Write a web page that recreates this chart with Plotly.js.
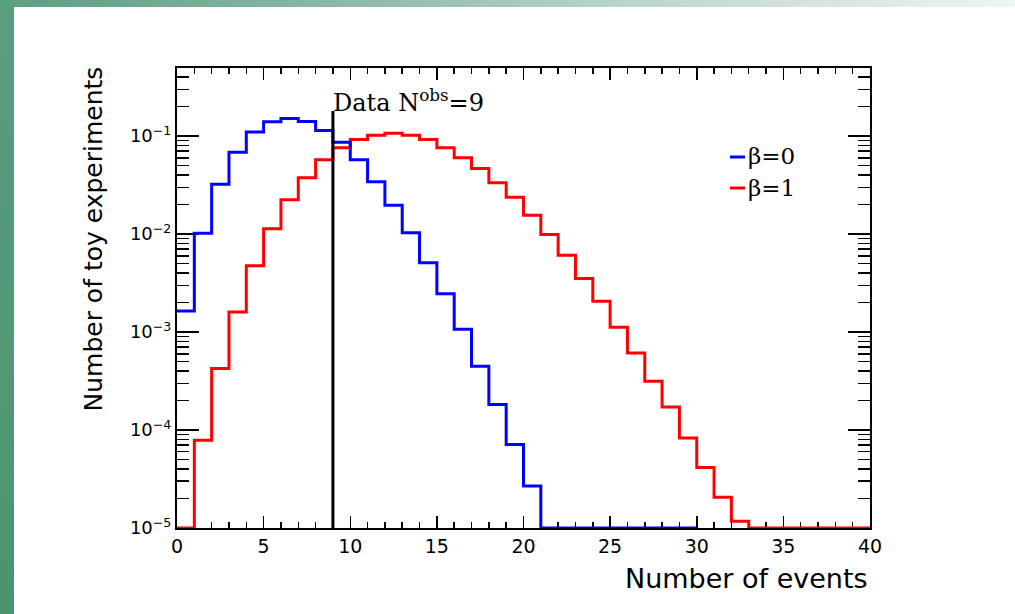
<!DOCTYPE html>
<html>
<head>
<meta charset="utf-8">
<script src="https://cdn.plot.ly/plotly-3.0.1.min.js"></script>
<style>
  html, body { margin:0; padding:0; background:#ffffff; }
  #wrap { position:relative; width:1015px; height:614px; overflow:hidden; background:#ffffff; }
  #plot { position:absolute; left:0; top:0; width:1015px; height:614px; }
  #barLeft { position:absolute; left:0; top:0; width:14px; height:614px;
             background:linear-gradient(to bottom, #5a9e80, #4a9470); z-index:5; }
  #barTop { position:absolute; left:0; top:0; width:1015px; height:7px;
            background:linear-gradient(to right, #5a9e80 0%, #8dbba5 35%, #c6ddd1 70%, #eef5f1 100%); z-index:6; }
</style>
</head>
<body>
<div id="wrap">
  <div id="plot"></div>
  <div id="barLeft"></div>
  <div id="barTop"></div>
</div>
<script>
// ---- data ----
// beta = 0 hypothesis: fraction of toy experiments per unit bin (bins start at 0, width 1)
var beta0Values = [1.64e-3, 0.0102, 0.0321, 0.0682, 0.110, 0.140, 0.151, 0.141, 0.114, 0.0862,
                   0.0574, 0.0342, 0.0196, 0.0103, 0.0051, 2.45e-3, 1.07e-3, 4.47e-4, 1.82e-4, 7.1e-5,
                   2.69e-5, 0, 0, 0, 0, 0, 0, 0, 0, 0];
// beta = 1 hypothesis
var beta1Values = [0, 7.85e-5, 4.23e-4, 1.60e-3, 4.75e-3, 0.0113, 0.0223, 0.0376, 0.0574, 0.076,
                   0.0919, 0.102, 0.1066, 0.1017, 0.092, 0.076, 0.060, 0.0465, 0.0334, 0.0237,
                   0.0155, 9.86e-3, 6.07e-3, 3.51e-3, 2.06e-3, 1.12e-3, 6.1e-4, 3.14e-4, 1.72e-4, 8.3e-5,
                   4.14e-5, 2.06e-5, 1.17e-5, 0, 0, 0, 0, 0, 0, 0];
var binStart = 0;
var binWidth = 1;
var dataNobs = 9;
var dataLineTop = 0.18;
var seriesNames = ["β=0", "β=1"];
var xTickVals = [0, 5, 10, 15, 20, 25, 30, 35, 40];
var yTickVals = [1e-5, 1e-4, 1e-3, 1e-2, 1e-1];
var yTickText = ["10<sup>−5</sup>", "10<sup>−4</sup>", "10<sup>−3</sup>", "10<sup>−2</sup>", "10<sup>−1</sup>"];
var xTitle = "Number of events";
var yTitle = "Number of toy experiments";
var dataLabel = "Data N<sup>obs</sup>=" + dataNobs;

// ---- build step outlines ----
var yLogRange = [-5, -0.306];
var yFloor = Math.pow(10, yLogRange[0]);
function stepTrace(vals, color, name) {
  var xs = [], ys = [];
  for (var i = 0; i < vals.length; i++) {
    xs.push(binStart + i * binWidth);
    ys.push(vals[i] > 0 ? vals[i] : yFloor);
  }
  xs.push(binStart + vals.length * binWidth);
  ys.push(ys[ys.length - 1]);
  return { x: xs, y: ys, type: 'scatter', mode: 'lines', name: name,
           line: { shape: 'hv', color: color, width: 3 }, showlegend: false, hoverinfo: 'skip' };
}
var traces = [
  stepTrace(beta1Values, '#ff0000', seriesNames[1]),
  stepTrace(beta0Values, '#0000ff', seriesNames[0]),
  { x: [dataNobs, dataNobs], y: [yFloor, dataLineTop], type: 'scatter', mode: 'lines',
    line: { color: '#000000', width: 3 }, showlegend: false, hoverinfo: 'skip' }
];

// minor ticks positions on log axis
var yMinor = [];
for (var d = -5; d <= -1; d++) {
  for (var k = 2; k <= 9; k++) yMinor.push(k * Math.pow(10, d));
}

var L = 177, R = 870, T = 68, B = 528, W = 1015, H = 614;
function px(xp) { return (xp - L) / (R - L); }
function py(yp) { return (B - yp) / (B - T); }

var layout = {
  width: W, height: H,
  margin: { l: L, r: W - R, t: T, b: H - B, pad: 0 },
  paper_bgcolor: '#ffffff', plot_bgcolor: '#ffffff',
  showlegend: false,
  xaxis: {
    range: [0, 40], tickmode: 'array', tickvals: xTickVals,
    ticks: 'inside', ticklen: 12, tickwidth: 1.5, tickcolor: '#000',
    showline: true, linecolor: '#000', linewidth: 2, mirror: 'allticks',
    showgrid: false, zeroline: false, layer: 'below traces',
    tickfont: { family: 'DejaVu Sans', size: 19, color: '#000' },
    minor: { dtick: 1, ticks: 'inside', ticklen: 6, tickwidth: 1.5, tickcolor: '#000', showgrid: false }
  },
  yaxis: {
    type: 'log', range: yLogRange, tickmode: 'array', tickvals: yTickVals, ticktext: yTickText,
    ticks: 'inside', ticklen: 22, tickwidth: 1.5, tickcolor: '#000',
    showline: true, linecolor: '#000', linewidth: 2, mirror: 'allticks',
    showgrid: false, zeroline: false, layer: 'below traces',
    tickfont: { family: 'DejaVu Sans', size: 18, color: '#000' },
    minor: { tickmode: 'array', tickvals: yMinor, ticks: 'inside', ticklen: 12, tickwidth: 1.5, tickcolor: '#000', showgrid: false }
  },
  annotations: [
    { text: xTitle, xref: 'paper', yref: 'paper', x: 1, y: py(578), xanchor: 'right', yanchor: 'middle',
      showarrow: false, font: { family: 'DejaVu Sans', size: 27, color: '#000' } },
    { text: yTitle, xref: 'paper', yref: 'paper', x: px(93), y: py(65), xanchor: 'center', yanchor: 'top',
      textangle: -90, showarrow: false, font: { family: 'DejaVu Sans', size: 25, color: '#000' } },
    { text: dataLabel, xref: 'x', yref: 'paper', x: dataNobs, y: py(101), xanchor: 'left', yanchor: 'middle',
      xshift: -2, showarrow: false, font: { family: 'DejaVu Serif', size: 24, color: '#000' } },
    { text: seriesNames[0], xref: 'paper', yref: 'paper', x: px(746), y: py(156), xanchor: 'left', yanchor: 'middle',
      showarrow: false, font: { family: 'DejaVu Serif', size: 23, color: '#000' } },
    { text: seriesNames[1], xref: 'paper', yref: 'paper', x: px(746), y: py(188), xanchor: 'left', yanchor: 'middle',
      showarrow: false, font: { family: 'DejaVu Serif', size: 23, color: '#000' } }
  ],
  shapes: [
    { type: 'line', xref: 'paper', yref: 'paper', x0: px(730), x1: px(745), y0: py(157), y1: py(157),
      line: { color: '#0000ff', width: 3 } },
    { type: 'line', xref: 'paper', yref: 'paper', x0: px(730), x1: px(745), y0: py(188), y1: py(188),
      line: { color: '#ff0000', width: 3 } }
  ]
};

Plotly.newPlot('plot', traces, layout, { staticPlot: true, displayModeBar: false });
</script>
</body>
</html>
